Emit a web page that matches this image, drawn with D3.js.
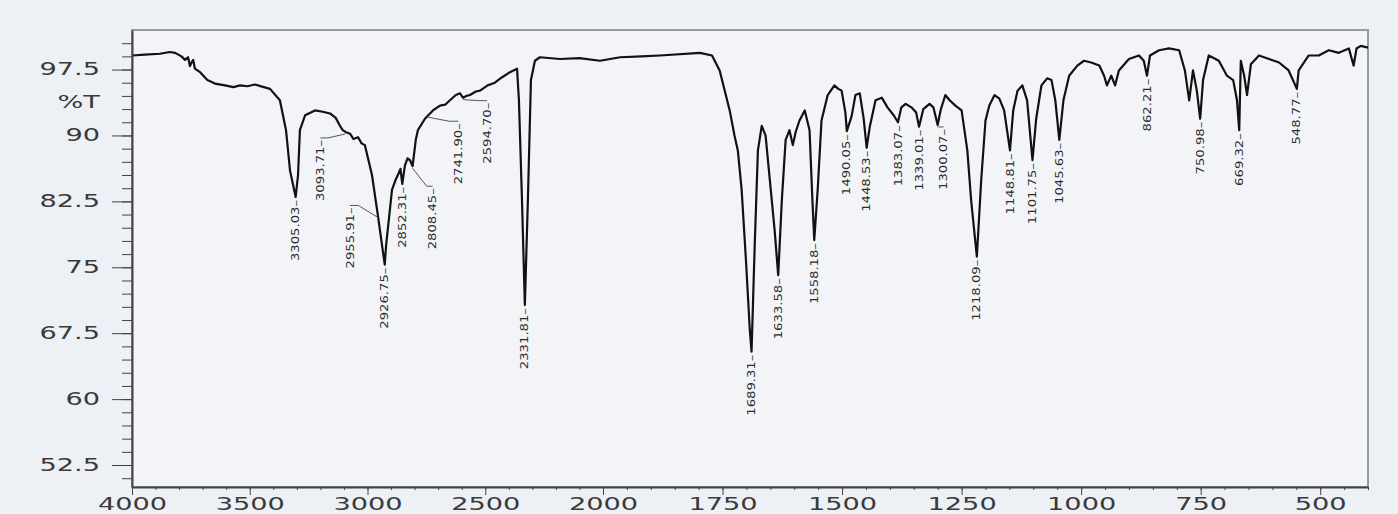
<!DOCTYPE html>
<html lang="en">
    <head>
        <meta charset="utf-8">
        <script type="text/javascript" src="https://d3js.org/d3.v7.min.js"></script>
        <style type="text/css">
          body { margin: 0; background: #edf0f4; }
          svg { display: block; }
          .axis text { font-family: "DejaVu Sans", sans-serif; font-size: 17px; fill: #3a3a3a; }
          .axis path, .axis line { stroke: #444; }
          .peak { font-family: "DejaVu Sans", sans-serif; font-size: 11px; fill: #2a2a2a; }
        </style>
    </head>
    <body>
      <script type="text/javascript">
        // spectrum: wavenumber (cm-1) and %T
        var wavenumber = [4000, 3945, 3881, 3840, 3817, 3790, 3775, 3762, 3754, 3745, 3740, 3733, 3711, 3680, 3648, 3605, 3570, 3541, 3510, 3478,
          3440, 3414, 3372, 3346, 3329, 3305.03, 3295, 3287, 3265, 3223, 3190, 3159, 3135, 3117, 3105, 3093.71, 3074, 3060, 3040, 3025,
          3011, 2981, 2955.91, 2926.75, 2921, 2896, 2880, 2871, 2860, 2852.31, 2841, 2830, 2820, 2808.45, 2795, 2786, 2756, 2741.90, 2720, 2692,
          2670, 2650, 2625, 2607, 2594.70, 2580, 2565, 2540, 2522, 2490, 2459, 2430, 2395, 2365, 2357, 2344, 2331.81, 2319, 2306, 2289,
          2268, 2183, 2100, 2013, 1964, 1920, 1881, 1797, 1772, 1756, 1735, 1725, 1718, 1710, 1701, 1693, 1689.31, 1683, 1676, 1668,
          1660, 1651, 1641, 1633.58, 1626, 1618, 1610, 1603, 1597, 1589, 1578, 1568, 1562, 1558.18, 1551, 1543, 1530, 1516, 1508, 1501,
          1493, 1490.05, 1480, 1472, 1463, 1455, 1448.53, 1442, 1430, 1417, 1405, 1392, 1383.07, 1376, 1367, 1355, 1345, 1339.01, 1330, 1317,
          1309, 1300.07, 1294, 1284, 1275, 1263, 1250, 1238, 1230, 1218.09, 1209, 1200, 1192, 1181, 1171, 1161, 1148.81, 1142, 1133, 1123,
          1113, 1101.75, 1094, 1083, 1071, 1062, 1054, 1045.63, 1037, 1025, 1008, 994, 979, 962, 952, 946, 937, 929, 921, 900,
          879, 869, 862.21, 856, 837, 816, 795, 783, 774, 766, 758, 750.98, 745, 733, 712, 695, 682, 674, 669.32, 666,
          659, 653, 645, 628, 607, 586, 566, 548.77, 545, 524, 503, 482, 461, 440, 430, 424, 415, 400];
        var transmittance = [99.1, 99.2, 99.3, 99.5, 99.4, 99.0, 98.6, 98.9, 97.9, 98.4, 98.6, 97.6, 97.2, 96.3, 95.9, 95.7, 95.5, 95.7, 95.6, 95.8,
          95.5, 95.3, 94.0, 90.6, 86.0, 83.0, 85.5, 90.6, 92.3, 92.85, 92.7, 92.5, 92.0, 91.1, 90.6, 90.4, 90.2, 89.6, 89.8, 89.1,
          88.9, 85.5, 80.9, 75.3, 77.5, 83.8, 85.0, 85.5, 86.2, 84.5, 86.6, 87.4, 87.2, 86.5, 89.5, 90.6, 91.9, 92.3, 92.9, 93.4,
          93.5, 94.0, 94.6, 94.8, 94.3, 94.5, 94.6, 95.0, 95.1, 95.7, 96.0, 96.6, 97.2, 97.6, 94.0, 82.6, 70.7, 82.6, 96.3, 98.5,
          98.9, 98.7, 98.8, 98.5, 98.9, 99.0, 99.1, 99.4, 99.1, 97.4, 92.85, 90.0, 88.3, 83.8, 75.8, 67.9, 65.4, 77.0, 88.3, 91.1,
          90.0, 84.9, 79.2, 74.1, 82.6, 89.5, 90.6, 88.9, 90.4, 91.7, 92.85, 90.6, 82.6, 78.1, 83.8, 91.7, 94.6, 95.7, 95.3, 95.1,
          92.6, 90.5, 92.2, 94.6, 94.8, 92.0, 88.6, 91.0, 94.0, 94.3, 93.2, 92.3, 91.5, 93.2, 93.6, 93.2, 92.6, 91.0, 93.0, 93.6,
          93.2, 91.2, 92.85, 94.6, 94.0, 93.4, 92.85, 88.3, 82.6, 76.2, 84.9, 91.7, 93.4, 94.6, 94.2, 92.85, 88.3, 92.85, 95.1, 95.7,
          94.0, 87.2, 91.9, 95.7, 96.5, 96.3, 94.0, 89.5, 94.0, 96.8, 97.95, 98.5, 98.3, 97.95, 96.8, 95.7, 96.8, 95.7, 97.4, 98.7,
          99.1, 98.5, 96.8, 99.1, 99.7, 99.9, 99.7, 97.4, 94.0, 97.4, 95.1, 91.9, 96.3, 99.1, 98.5, 96.8, 96.3, 94.0, 90.6, 98.5,
          96.8, 94.6, 98.1, 99.1, 98.7, 98.3, 97.4, 95.3, 97.4, 99.1, 99.1, 99.7, 99.4, 99.9, 97.95, 99.9, 100.2, 100.0];

        // picked peaks
        var peakWn = [3305.03, 3093.71, 2955.91, 2926.75, 2852.31, 2808.45, 2741.90, 2594.70, 2331.81,
          1689.31, 1633.58, 1558.18, 1490.05, 1448.53, 1383.07, 1339.01, 1300.07, 1218.09,
          1148.81, 1101.75, 1045.63, 862.21, 750.98, 669.32, 548.77];

        // axis ticks
        var xMajor = [4000, 3500, 3000, 2500, 2000, 1750, 1500, 1250, 1000, 750, 500];
        var yMajor = [52.5, 60, 67.5, 75, 82.5, 90, 97.5];

        // labels that sit off to one side of their peak: [dx, dy]
        var nudge = {
          "3093.71": [-25, 8], "2955.91": [-28, -8], "2808.45": [20, 22], "2741.90": [30, 8],
          "2594.70": [24, 5], "1300.07": [6, 4]
        };

        var w = 1398, h = 514;
        var pLeft = 132, pRight = 1368, pTop = 30, pBottom = 487;
        var stretch = 1.6;

        var svg = d3.select("body").append("svg").attr("width", w).attr("height", h);

        // scale is split at 2000 cm-1, the low half gets twice the room
        var x = d3.scaleLinear().domain([4000, 2000, 400]).range([pLeft, 603, pRight]);
        var y = d3.scaleLinear().domain([50, 102]).range([pBottom, pTop]);

        svg.append("rect")
           .attr("x", pLeft).attr("y", pTop)
           .attr("width", pRight - pLeft).attr("height", pBottom - pTop)
           .attr("fill", "#f2f4f7")
           .attr("stroke", "#9a9a9a")
           .attr("stroke-width", 2);

        svg.append("clipPath").attr("id", "plot")
           .append("rect").attr("x", pLeft).attr("y", pTop).attr("width", pRight - pLeft).attr("height", pBottom - pTop);

        var data = wavenumber.map(function(d, i) { return [d, transmittance[i]]; });

        var line = d3.line()
                     .x(function(d) { return x(d[0]); })
                     .y(function(d) { return y(d[1]); });

        svg.append("path")
           .datum(data)
           .attr("clip-path", "url(#plot)")
           .attr("fill", "none")
           .attr("stroke", "#111")
           .attr("stroke-width", 2.2)
           .attr("stroke-linejoin", "round")
           .attr("d", line);

        // peak labels, written upwards under each dip
        peakWn.forEach(function(p) {
          var i = wavenumber.indexOf(p);
          var px = x(p), py = y(transmittance[i]);
          var key = p.toFixed(2);
          var n = nudge[key] || [0, 3];
          var lx = px + n[0], ly = py + n[1];
          if (n[0] !== 0) {
            svg.append("path")
               .attr("d", "M" + px + "," + (py + 2) + "L" + (lx - n[0] * 0.3) + "," + (ly - 2) + "L" + lx + "," + (ly - 2))
               .attr("fill", "none").attr("stroke", "#555").attr("stroke-width", 1);
          }
          svg.append("text")
             .attr("class", "peak")
             .attr("transform", "translate(" + lx + "," + ly + ") rotate(-90) scale(1.2,1)")
             .attr("text-anchor", "end")
             .attr("dominant-baseline", "central")
             .text(key + "\u2013");
        });

        // y axis
        svg.append("g")
           .attr("class", "axis")
           .attr("transform", "translate(" + pLeft + ",0)")
           .call(d3.axisLeft(y).tickValues(d3.range(51, 102, 1.5)).tickSize(10).tickFormat(""))
           .call(function(g) { g.select(".domain").remove(); });

        var yAxis = svg.append("g")
           .attr("class", "axis")
           .attr("transform", "translate(" + pLeft + ",0)")
           .call(d3.axisLeft(y).tickValues(yMajor).tickSize(20).tickSizeOuter(0)
                   .tickFormat(function(d) { return String(d); }));
        yAxis.select(".domain").attr("stroke-width", 2);
        yAxis.selectAll("text").attr("x", -32 / stretch).attr("transform", "scale(" + stretch + ",1)");

        svg.append("text")
           .attr("transform", "translate(100," + y(93.75) + ") scale(" + stretch + ",1)")
           .attr("text-anchor", "end")
           .attr("dy", "0.32em")
           .style("font-family", "DejaVu Sans").style("font-size", "17px").style("fill", "#3a3a3a")
           .text("%T");

        // x axis
        var minorX = d3.range(4000, 2000, -100).concat(d3.range(2000, 399, -50));
        svg.append("g")
           .attr("class", "axis")
           .attr("transform", "translate(0," + pBottom + ")")
           .call(d3.axisBottom(x).tickValues(minorX).tickSize(3).tickFormat(""))
           .call(function(g) { g.select(".domain").remove(); });

        var xAxis = svg.append("g")
           .attr("class", "axis")
           .attr("transform", "translate(0," + pBottom + ")")
           .call(d3.axisBottom(x).tickValues(xMajor).tickSize(8).tickSizeOuter(0)
                   .tickFormat(function(d) { return String(d); }));
        xAxis.select(".domain").attr("stroke-width", 2);
        xAxis.selectAll("text").attr("y", 11).attr("transform", "scale(" + stretch + ",1)");
      </script>
    </body>
</html>
